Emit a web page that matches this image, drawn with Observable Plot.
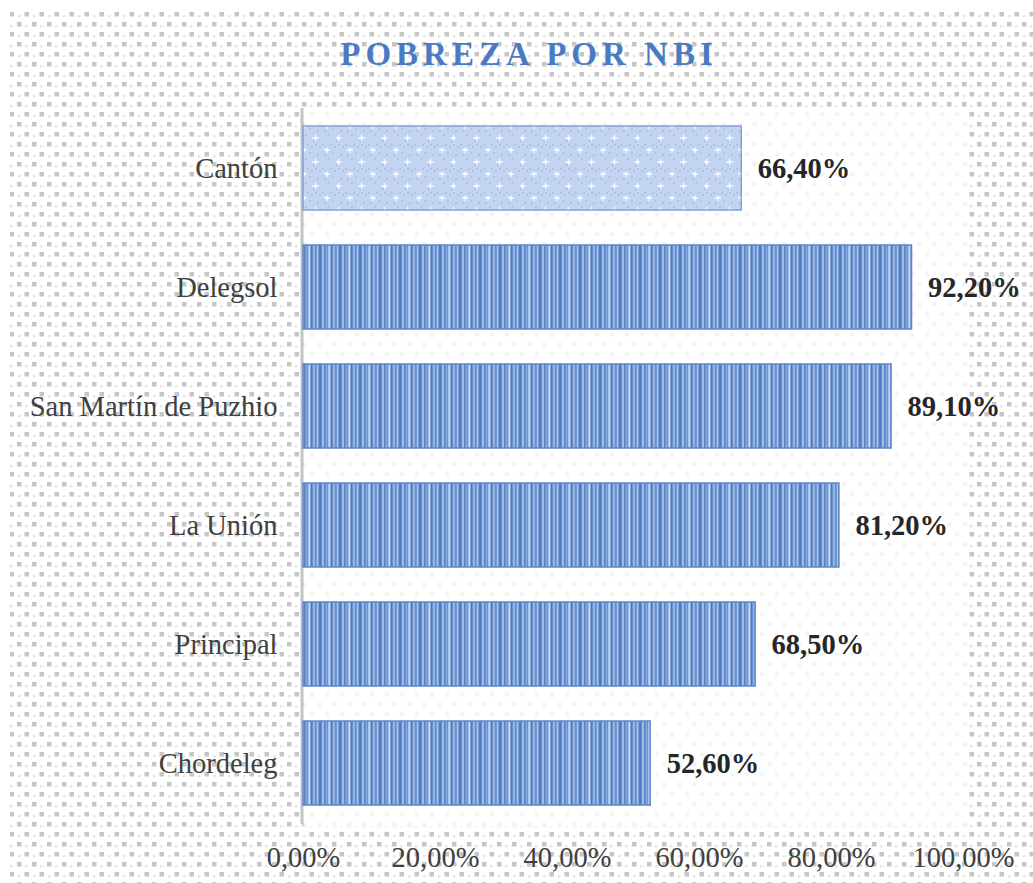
<!DOCTYPE html>
<html>
<head>
<meta charset="utf-8">
<script src="https://cdn.jsdelivr.net/npm/d3@7"></script>
<script src="https://cdn.jsdelivr.net/npm/@observablehq/plot@0.6"></script>
<style>
  html, body { margin: 0; padding: 0; background: #ffffff; }
  #chart { position: relative; width: 1033px; height: 883px; }
</style>
</head>
<body>
<div id="chart"></div>
<script>
const title = "POBREZA POR NBI";
const categories = ["Cantón", "Delegsol", "San Martín de Puzhio", "La Unión", "Principal", "Chordeleg"];
const values = [66.4, 92.2, 89.1, 81.2, 68.5, 52.6];
const highlighted = ["Cantón"];
const xTicks = [0, 20, 40, 60, 80, 100];

const data = categories.map((name, i) => ({name, value: values[i]}));
const fmt = v => v.toFixed(2).replace(".", ",") + "%";
const serif = "'Liberation Serif', 'Times New Roman', 'DejaVu Serif', serif";

const chart = Plot.plot({
  width: 1033,
  height: 883,
  marginLeft: 303,
  marginRight: 70,
  marginTop: 108,
  marginBottom: 59,
  style: {fontFamily: serif, fontSize: "28.5px", color: "#404040", background: "transparent", overflow: "visible"},
  x: {domain: [0, 100], ticks: xTicks, tickFormat: fmt, tickSize: 0, tickPadding: 22, label: null},
  y: {domain: categories, paddingInner: 0.29, paddingOuter: 0.145, tickSize: 0, tickPadding: 26, label: null},
  marks: [
    Plot.frame({fill: "url(#plotbg)", stroke: "none", insetRight: -3, insetTop: -1, insetBottom: -2}),
    Plot.ruleX([0], {stroke: "#c4c4c4", strokeWidth: 3, dx: -1.5}),
    Plot.barX(data.filter(d => !highlighted.includes(d.name)), {x: "value", y: "name", fill: "url(#stripes)", stroke: "#5b87c8", strokeWidth: 1.5}),
    Plot.barX(data.filter(d => highlighted.includes(d.name)), {x: "value", y: "name", fill: "url(#dotsbar)", stroke: "#7ea1d8", strokeWidth: 1.5}),
    Plot.text(data, {x: "value", y: "name", text: d => fmt(d.value), textAnchor: "start", dx: 16, fontWeight: "bold", fontSize: 28.5, fill: "#262626"})
  ]
});

const svg = d3.select(chart);
svg.append("defs").html(`
  <pattern id="bgdots" patternUnits="userSpaceOnUse" width="15" height="20">
    <rect width="15" height="20" fill="#ffffff"/>
    <rect x="2" y="2" width="4.5" height="4.5" fill="#c6c6c6"/>
    <rect x="9.5" y="12" width="4.5" height="4.5" fill="#c6c6c6"/>
    <rect x="10" y="5" width="2.5" height="2.5" fill="#e6e6e6"/>
    <rect x="3" y="15" width="2.5" height="2.5" fill="#e6e6e6"/>
  </pattern>
  <pattern id="plotbg" patternUnits="userSpaceOnUse" width="15" height="20">
    <rect width="15" height="20" fill="#ffffff"/>
    <rect x="2" y="2" width="4" height="4" fill="#f3f3f3"/>
    <rect x="9.5" y="12" width="4" height="4" fill="#f3f3f3"/>
  </pattern>
  <pattern id="stripes" patternUnits="userSpaceOnUse" width="20" height="10">
    <rect width="20" height="10" fill="#86a8dc"/>
    <rect x="0" width="1.5" height="10" fill="#4c7abf"/>
    <rect x="2.5" width="1" height="10" fill="#b8cdee"/>
    <rect x="4" width="1.5" height="10" fill="#5783c7"/>
    <rect x="7" width="1" height="10" fill="#6b93cf"/>
    <rect x="8.5" width="1.5" height="10" fill="#c6d7f1"/>
    <rect x="11" width="1.5" height="10" fill="#4c7abf"/>
    <rect x="13.5" width="1" height="10" fill="#a5bfe7"/>
    <rect x="15" width="1.5" height="10" fill="#648dcb"/>
    <rect x="17.5" width="1" height="10" fill="#d2e0f4"/>
    <rect x="18.5" width="1.5" height="10" fill="#5280c4"/>
  </pattern>
  <pattern id="dotsbar" patternUnits="userSpaceOnUse" width="23" height="24">
    <rect width="23" height="24" fill="#c2d4ef"/>
    <rect x="0" y="0" width="2" height="2" fill="#acc3e9"/>
    <rect x="4" y="2" width="2" height="2" fill="#acc3e9"/>
    <rect x="8" y="0" width="2" height="2" fill="#acc3e9"/>
    <rect x="12" y="2" width="2" height="2" fill="#acc3e9"/>
    <rect x="16" y="0" width="2" height="2" fill="#acc3e9"/>
    <rect x="20" y="2" width="2" height="2" fill="#acc3e9"/>
    <rect x="2" y="10" width="2" height="2" fill="#acc3e9"/>
    <rect x="10" y="8" width="2" height="2" fill="#acc3e9"/>
    <rect x="18" y="10" width="2" height="2" fill="#acc3e9"/>
    <rect x="6" y="14" width="2" height="2" fill="#acc3e9"/>
    <rect x="14" y="20" width="2" height="2" fill="#acc3e9"/>
    <path d="M2,6h6M5,3v6M13.5,18h6M16.5,15v6" stroke="#ffffff" stroke-width="1.3" opacity="0.95"/>
  </pattern>
`);
svg.insert("rect", "g").attr("x", 10).attr("y", 10).attr("width", 1023).attr("height", 873).attr("fill", "url(#bgdots)");
svg.append("text")
  .attr("x", 529).attr("y", 65)
  .attr("text-anchor", "middle")
  .attr("letter-spacing", "5")
  .attr("font-family", serif)
  .attr("font-size", 33)
  .attr("font-weight", "bold")
  .attr("fill", "#4a7bc2")
  .text(title);

document.getElementById("chart").appendChild(chart);
</script>
</body>
</html>
